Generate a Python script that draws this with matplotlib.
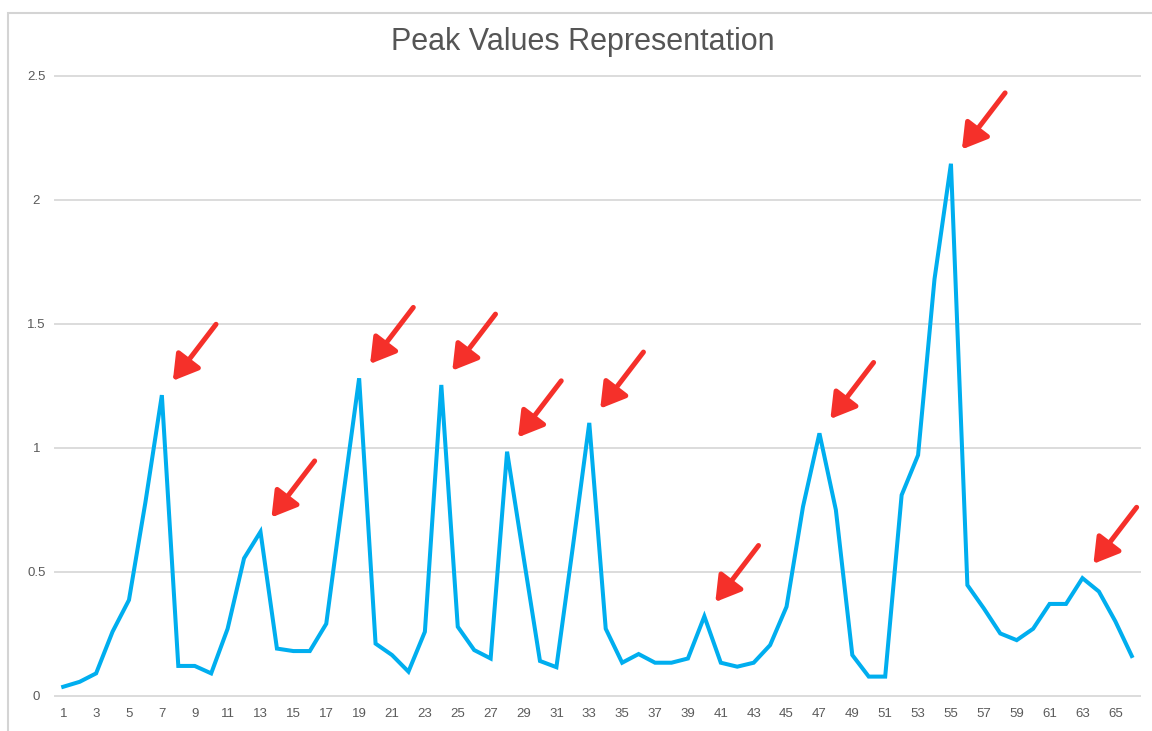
import matplotlib
matplotlib.use("Agg")
import matplotlib.pyplot as plt
from matplotlib.patches import Rectangle

# ---- data ----
x_values = list(range(1, 67))
peak_values = [
    0.036, 0.056, 0.09, 0.258, 0.386, 0.78, 1.212, 0.12, 0.12, 0.09,
    0.27, 0.554, 0.661, 0.19, 0.18, 0.18, 0.29, 0.79, 1.28, 0.21,
    0.164, 0.097, 0.258, 1.253, 0.278, 0.184, 0.15, 0.984, 0.56, 0.14,
    0.115, 0.6, 1.10, 0.27, 0.133, 0.168, 0.133, 0.133, 0.15, 0.32,
    0.133, 0.117, 0.133, 0.204, 0.359, 0.762, 1.058, 0.749, 0.164, 0.077,
    0.077, 0.809, 0.97, 1.68, 2.145, 0.446, 0.352, 0.251, 0.224, 0.27,
    0.37, 0.37, 0.474, 0.42, 0.30, 0.16,
]
marked_peaks = [7, 13, 19, 24, 28, 33, 40, 47, 55, 63]
x_tick_labels = [str(v) for v in range(1, 67, 2)]
y_ticks = [0, 0.5, 1, 1.5, 2, 2.5]
y_tick_labels = ["0", "0.5", "1", "1.5", "2", "2.5"]
title = "Peak Values Representation"

W, H = 1152, 731
fig = plt.figure(figsize=(W / 100, H / 100), dpi=100)
plt.rcParams["font.family"] = ["Liberation Sans", "DejaVu Sans"]

left, right = 55 / W, 1140 / W
bottom, top = 1 - 695.7 / H, 1 - 75.7 / H
ax = fig.add_axes([left, bottom, right - left, top - bottom])

ax.plot(x_values, peak_values, color="#00aeef", lw=2.9, solid_joinstyle="miter",
        zorder=3, clip_on=False)

ax.set_xlim(0.5, 66.5)
ax.set_ylim(0, 2.5)
ax.set_yticks(y_ticks)
ax.set_yticklabels(y_tick_labels)
ax.set_xticks(list(range(1, 67, 2)))
ax.set_xticklabels(x_tick_labels)
for s in ax.spines.values():
    s.set_visible(False)
ax.grid(axis="y", color="#dcdcdc", lw=1.4, zorder=0)
ax.set_axisbelow(True)
ax.tick_params(axis="both", length=0, colors="#5a5a5a", labelsize=9.5)
ax.tick_params(axis="y", pad=13.5)
ax.tick_params(axis="x", pad=8.5)
for lab in ax.get_yticklabels():
    lab.set_horizontalalignment("center")
for yv in y_ticks:
    ax.axhline(yv, color="#dcdcdc", lw=1.4, zorder=0, clip_on=False)

# red arrows pointing at the marked peaks
for p in marked_peaks:
    yv = peak_values[p - 1]
    ax.annotate(
        "", xy=(p, yv), xycoords="data",
        xytext=(39, 51), textcoords="offset points",
        arrowprops=dict(arrowstyle="-|>,head_length=0.75,head_width=0.45",
                        mutation_scale=20, lw=3.6, color="#f5302a",
                        shrinkA=0, shrinkB=13),
        annotation_clip=False, zorder=4,
    )

fig.text(583 / W, 1 - 42 / H, title, ha="center", va="center",
         fontsize=22, color="#555555")

fig.patches.append(Rectangle((8 / W, -0.1), 2, (H - 13) / H + 0.1,
                             transform=fig.transFigure, fill=False,
                             edgecolor="#d4d4d4", lw=1.5))

fig.savefig("out.png", dpi=100)
